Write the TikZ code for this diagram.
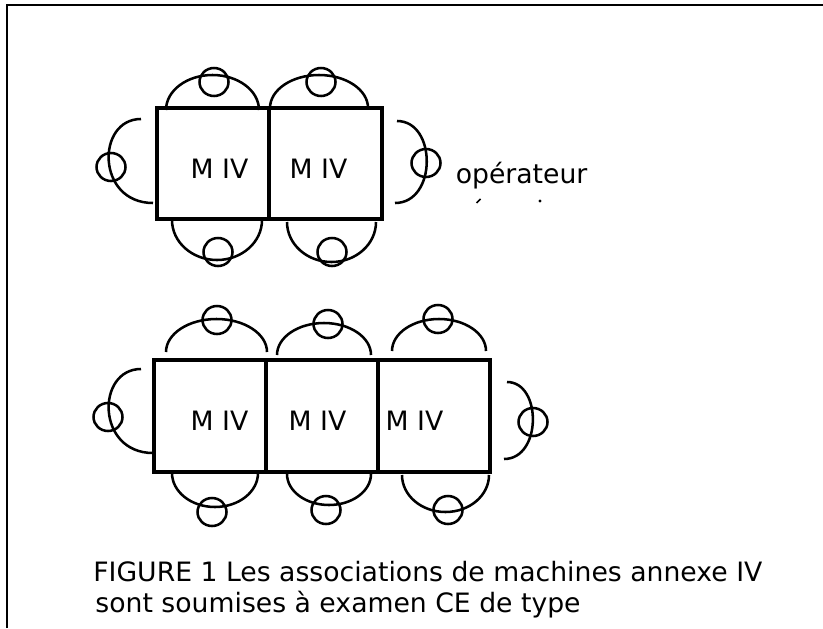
\documentclass[tikz,border=0pt]{standalone}
\usepackage{fontspec}
\setmainfont{DejaVu Sans}
\usetikzlibrary{shapes.geometric}
\begin{document}
\begin{tikzpicture}[x=0.75pt,y=0.75pt,
  box/.style={draw, line width=2.3pt, rectangle, inner sep=0pt},
  seat/.style={draw, line width=1.9pt, ellipse, inner sep=0pt, minimum width=21.75pt, minimum height=21pt},
  arcline/.style={line width=1.9pt},
  lbl/.style={inner sep=0pt, anchor=base west, font=\fontsize{20pt}{24pt}\selectfont}]
\useasboundingbox (0,0) rectangle (823,-628);
% frame
\draw[line width=1.7pt] (7,-628) -- (7,-5.3) -- (823,-5.3);

% ---- top group ----
\node[box, minimum width=84pt, minimum height=83.25pt] (t1) at (213,-163.5) {};
\node[box, minimum width=84.75pt, minimum height=83.25pt] (t2) at (325.5,-163.5) {};
\node[lbl] (tl1) at (190.4,-178.5) {M IV};
\node[lbl] (tl2) at (289.4,-178.5) {M IV};

\draw[arcline] (166,-110) arc[start angle=180,end angle=0,x radius=46.5,y radius=35];
\draw[arcline] (270,-108) arc[start angle=180,end angle=0,x radius=49,y radius=33];
\draw[arcline] (172,-220) arc[start angle=180,end angle=360,x radius=45,y radius=40];
\draw[arcline] (287,-222) arc[start angle=180,end angle=360,x radius=44.5,y radius=40];
\draw[arcline] (141,-119) .. controls (96,-119) and (96,-203) .. (153,-203);
\draw[arcline] (397,-121) .. controls (437,-121) and (437,-203) .. (395,-203);

\node[seat] (ts1) at (214,-82) {};
\node[seat] (ts2) at (321,-82) {};
\node[seat] (ts3) at (218,-252) {};
\node[seat] (ts4) at (332,-252) {};
\node[seat] (ts5) at (111,-167) {};
\node[seat] (ts6) at (426,-163) {};

\node[lbl] (op) at (455.5,-183) {opérateur};
\draw[line width=1.1pt] (476.5,-203) -- (480.5,-199);
\fill (540,-201) circle[radius=1.6];

% ---- bottom group ----
\node[box, minimum width=84pt, minimum height=84pt] (b1) at (210,-416) {};
\node[box, minimum width=84pt, minimum height=84pt] (b2) at (322,-416) {};
\node[box, minimum width=84pt, minimum height=84pt] (b3) at (434,-416) {};
\node[lbl] (bl1) at (190.4,-430.6) {M IV};
\node[lbl] (bl2) at (288.4,-430.6) {M IV};
\node[lbl] (bl3) at (385.4,-430.6) {M IV};

\draw[arcline] (166,-352) arc[start angle=180,end angle=0,x radius=50.5,y radius=33];
\draw[arcline] (277,-355) arc[start angle=180,end angle=0,x radius=47,y radius=32];
\draw[arcline] (392,-351) arc[start angle=180,end angle=0,x radius=47,y radius=32];
\draw[arcline] (172,-473) arc[start angle=180,end angle=360,x radius=43,y radius=34];
\draw[arcline] (287,-474) arc[start angle=180,end angle=360,x radius=42,y radius=31];
\draw[arcline] (402,-475) arc[start angle=180,end angle=360,x radius=43.5,y radius=37];
\draw[arcline] (141,-369) .. controls (96,-369) and (96,-453) .. (153,-453);
\draw[arcline] (507,-382) .. controls (542,-382) and (542,-459) .. (504,-459);

\node[seat] (bs1) at (217,-320) {};
\node[seat] (bs2) at (328,-324) {};
\node[seat] (bs3) at (438,-319) {};
\node[seat] (bs4) at (212,-512) {};
\node[seat] (bs5) at (326,-510) {};
\node[seat] (bs6) at (448,-510) {};
\node[seat] (bs7) at (108,-417) {};
\node[seat] (bs8) at (533,-422) {};

% caption
\node[lbl] (cap1) at (93.1,-581) {FIGURE 1 Les associations de machines annexe IV};
\node[lbl] (cap2) at (95.2,-612) {sont soumises à examen CE de type};
\end{tikzpicture}
\end{document}
